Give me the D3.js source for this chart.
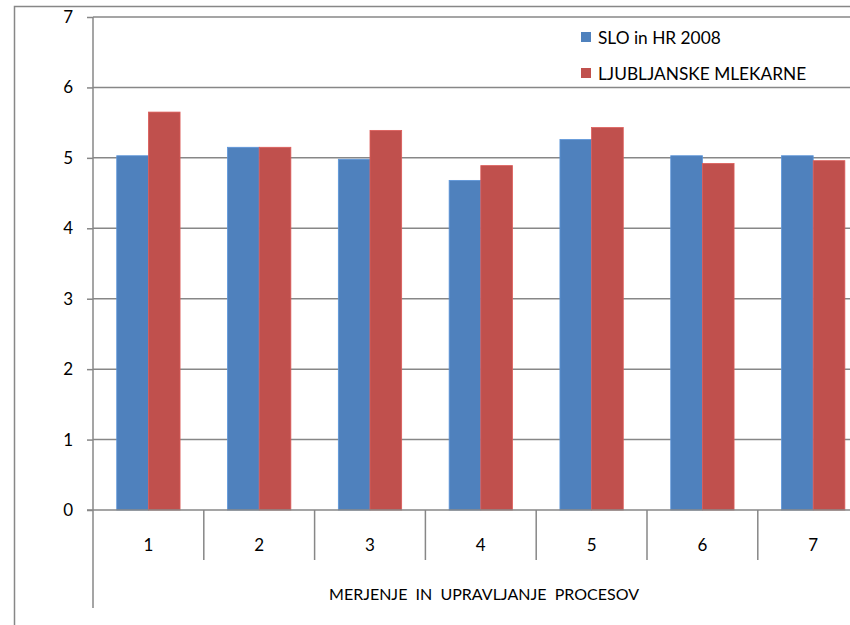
<!DOCTYPE html>
<html>
<head>
<meta charset="utf-8">
<script src="https://cdn.jsdelivr.net/npm/d3@7"></script>
<style>
  html, body { margin: 0; padding: 0; background: #fff; }
  svg { display: block; font-family: Lato, "Open Sans", sans-serif; }
</style>
</head>
<body>
<svg id="chart" width="850" height="625"></svg>
<script>
const categories = ["1", "2", "3", "4", "5", "6", "7"];
const seriesNames = ["SLO in HR 2008", "LJUBLJANSKE MLEKARNE"];
const sloHr2008 = [5.03, 5.15, 4.98, 4.68, 5.26, 5.03, 5.03];
const ljubljanskeMlekarne = [5.65, 5.15, 5.39, 4.89, 5.43, 4.92, 4.96];
const yTicks = [0, 1, 2, 3, 4, 5, 6, 7];
const axisTitle = "MERJENJE  IN  UPRAVLJANJE  PROCESOV";
const colors = ["#4F81BD", "#C0504D"];

const svg = d3.select("#chart");
const gridColor = "#878787";

// outer chart border (extends beyond visible area on right/bottom)
svg.append("rect")
  .attr("x", 14.5).attr("y", 6.5)
  .attr("width", 900).attr("height", 700)
  .attr("fill", "none").attr("stroke", gridColor).attr("stroke-width", 1.5);

const plotLeft = 93, plotTop = 17, plotBottom = 510;
const bandW = 110.8;
const x = d3.scaleBand().domain(categories)
  .range([plotLeft, plotLeft + bandW * categories.length])
  .paddingInner(0).paddingOuter(0);
const y = d3.scaleLinear().domain([0, 7]).range([plotBottom, plotTop]);

// gridlines
svg.append("g").selectAll("line").data(yTicks.filter(d => d > 0)).join("line")
  .attr("x1", plotLeft).attr("x2", 900)
  .attr("y1", d => y(d)).attr("y2", d => y(d))
  .attr("stroke", gridColor).attr("stroke-width", 1.5);

// bars
const barW = x.bandwidth() / 3.5;
const series = [sloHr2008, ljubljanskeMlekarne];
series.forEach((vals, si) => {
  svg.append("g").selectAll("rect").data(vals).join("rect")
    .attr("x", (d, i) => x(categories[i]) + barW * 0.75 + si * barW)
    .attr("y", d => y(d))
    .attr("width", barW)
    .attr("height", d => y(0) - y(d))
    .attr("fill", colors[si])
    .attr("stroke", d3.color(colors[si]).brighter(0.4))
    .attr("stroke-width", 0.8);
});

// y axis
const yAxis = d3.axisLeft(y).tickValues(yTicks).tickSize(6).tickPadding(14)
  .tickFormat(d3.format("d"));
const gy = svg.append("g").attr("transform", `translate(${plotLeft},0)`).call(yAxis);
gy.select(".domain").remove();
gy.selectAll(".tick line").attr("stroke", gridColor).attr("stroke-width", 1.5);
gy.selectAll(".tick text").attr("fill", "#000").attr("font-size", 17)
  .attr("font-family", "Lato, sans-serif");
svg.append("line")
  .attr("x1", plotLeft).attr("x2", plotLeft)
  .attr("y1", plotTop).attr("y2", 608)
  .attr("stroke", gridColor).attr("stroke-width", 1.5);

// x axis baseline
svg.append("line")
  .attr("x1", plotLeft - 6).attr("x2", 900)
  .attr("y1", y(0)).attr("y2", y(0))
  .attr("stroke", gridColor).attr("stroke-width", 1.5);

// category separators
svg.append("g").selectAll("line").data(categories.slice(1)).join("line")
  .attr("x1", d => x(d)).attr("x2", d => x(d))
  .attr("y1", y(0)).attr("y2", 560)
  .attr("stroke", gridColor).attr("stroke-width", 1.5);

// category labels
svg.append("g").selectAll("text").data(categories).join("text")
  .attr("x", d => x(d) + x.bandwidth() / 2)
  .attr("y", 551)
  .attr("text-anchor", "middle")
  .attr("font-size", 17)
  .attr("fill", "#000")
  .text(d => d);

// axis title
svg.append("text")
  .attr("x", 484).attr("y", 600)
  .attr("text-anchor", "middle")
  .attr("font-size", 16)
  .attr("fill", "#000")
  .style("white-space", "pre")
  .attr("xml:space", "preserve")
  .text(axisTitle);

// legend
const legend = svg.append("g");
seriesNames.forEach((name, i) => {
  const ly = 37 + i * 36;
  legend.append("rect")
    .attr("x", 581).attr("y", ly - 5)
    .attr("width", 10).attr("height", 10)
    .attr("fill", colors[i]);
  legend.append("text")
    .attr("x", 598).attr("y", ly + 6.5)
    .attr("font-size", 17.3)
    .attr("fill", "#000")
    .text(name);
});
</script>
</body>
</html>
